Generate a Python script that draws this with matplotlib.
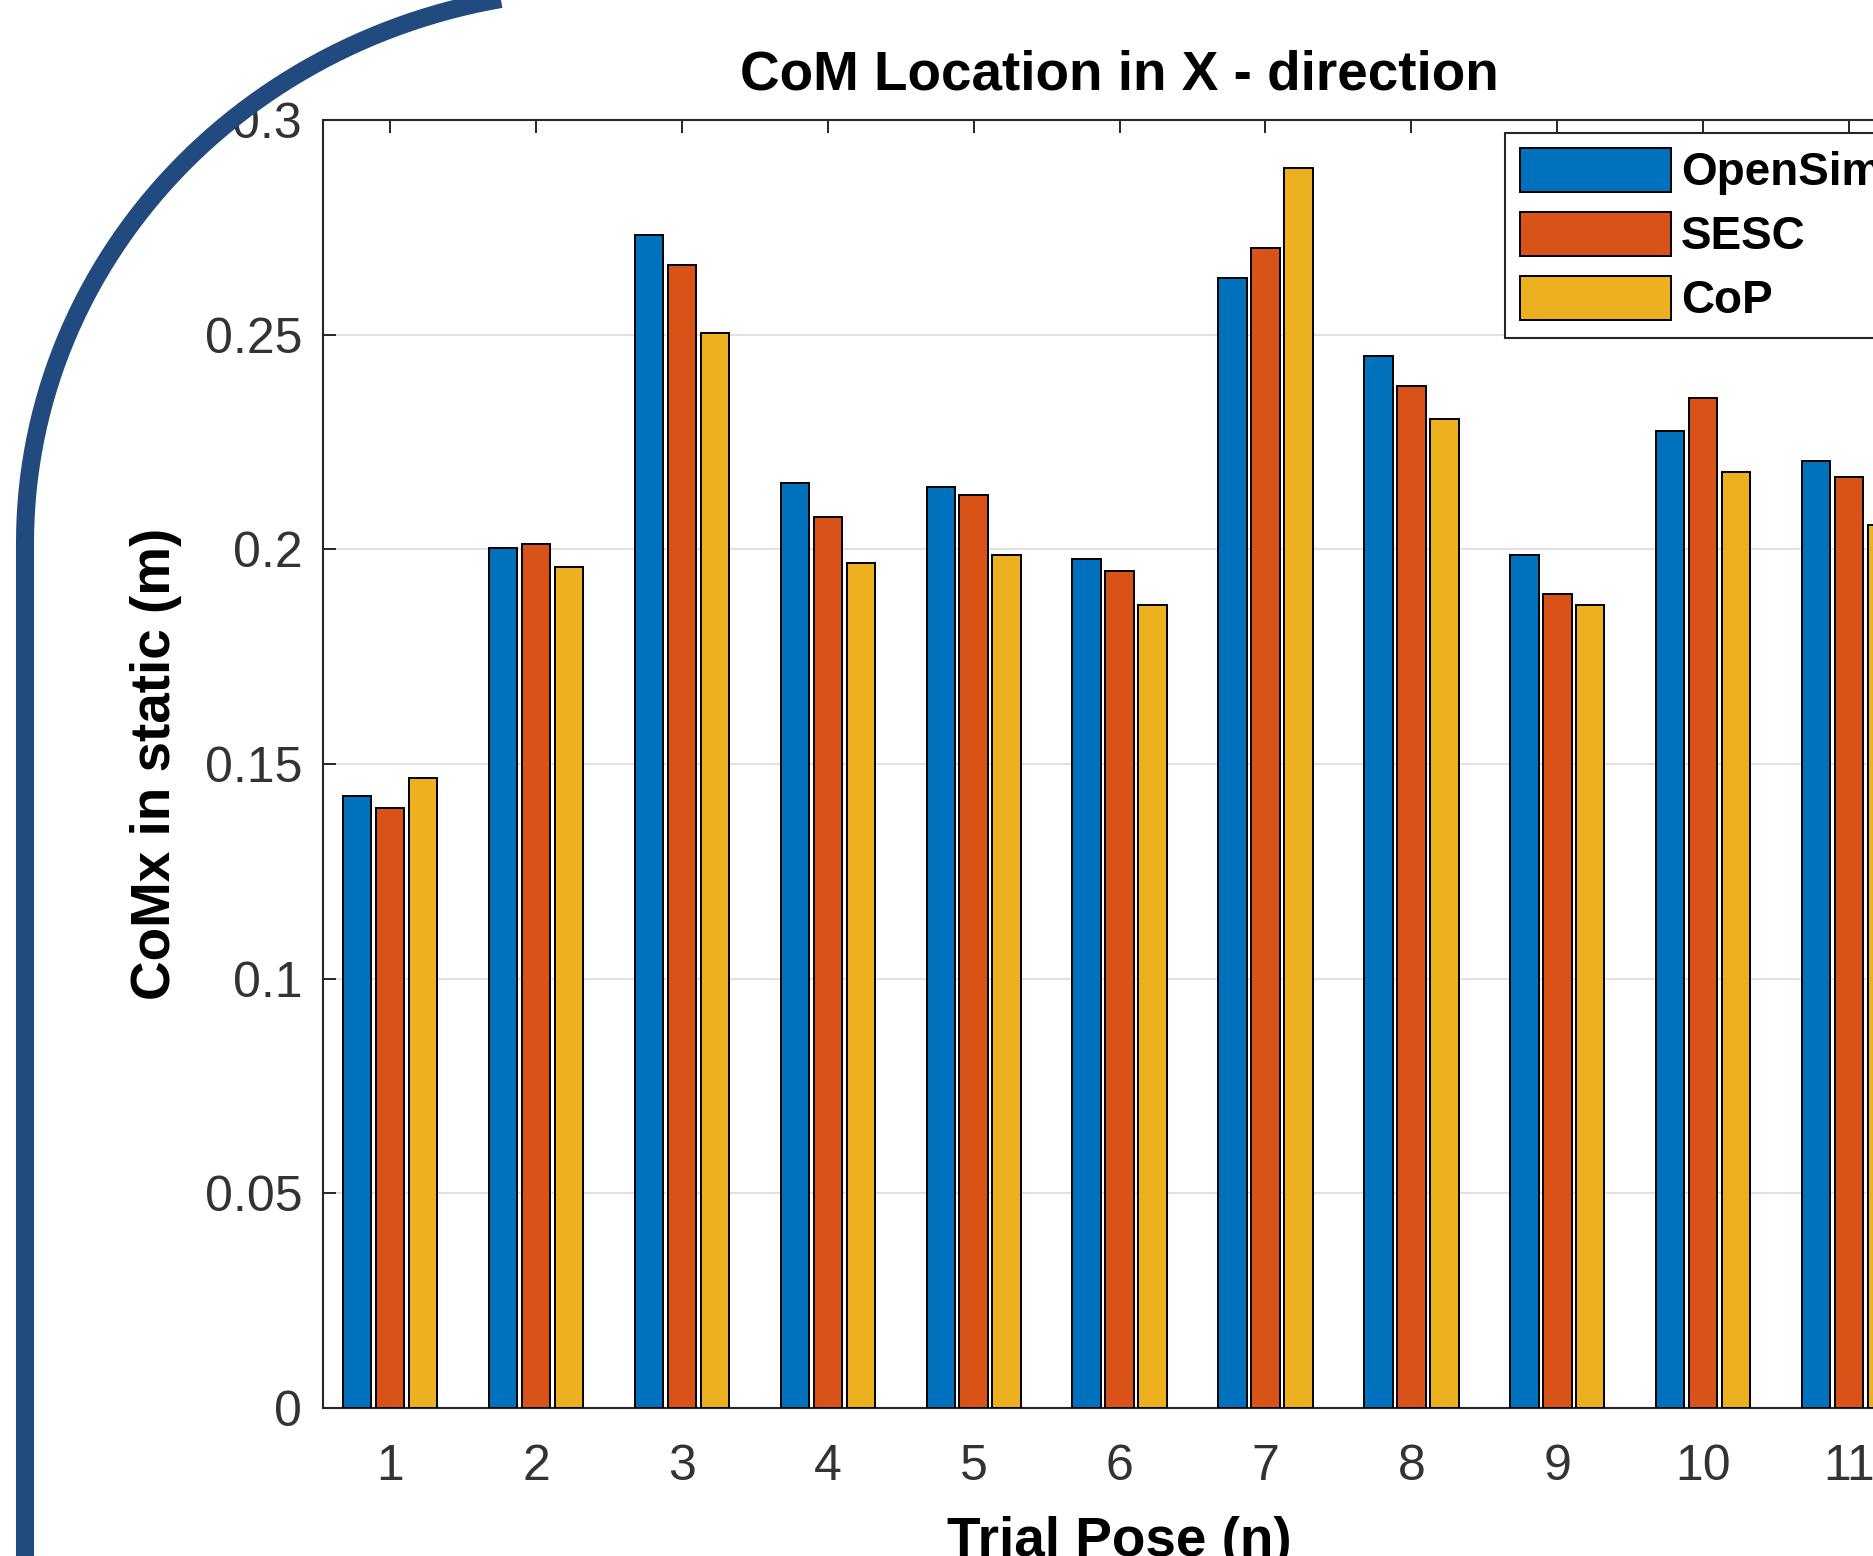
import numpy as np
import matplotlib
matplotlib.use('Agg')
import matplotlib.pyplot as plt

plt.rcParams['font.family'] = ['Liberation Sans', 'DejaVu Sans']

# CoM x location per trial pose (m)
poses = [1, 2, 3, 4, 5, 6, 7, 8, 9, 10, 11]
opensim = [0.1425, 0.2003, 0.2732, 0.2155, 0.2145, 0.1978, 0.2633, 0.2450, 0.1986, 0.2275, 0.2206]
sesc = [0.1397, 0.2012, 0.2662, 0.2075, 0.2126, 0.1950, 0.2703, 0.2380, 0.1897, 0.2353, 0.2169]
cop = [0.1467, 0.1959, 0.2504, 0.1969, 0.1987, 0.1870, 0.2889, 0.2303, 0.1870, 0.2180, 0.2056]
series_names = ['OpenSim', 'SESC', 'CoP']
yticks = [0, 0.05, 0.1, 0.15, 0.2, 0.25, 0.3]
ytick_labels = ['0', '0.05', '0.1', '0.15', '0.2', '0.25', '0.3']

colors = ['#0072BD', '#D95319', '#EDB120']
dark = '#262626'

W, H = 1873, 1556
fig = plt.figure(figsize=(W / 100, H / 100), dpi=100)
fig.patch.set_facecolor('white')

# axes runs past the right edge of the figure (cropped original)
ax = fig.add_axes([323 / W, 148 / H, 1593.2 / W, 1288 / H])

x = np.arange(len(poses)) + 1
step = 0.226
width = 0.195
for i, (vals, name) in enumerate(zip([opensim, sesc, cop], series_names)):
    ax.bar(x + (i - 1) * step, vals, width, color=colors[i], edgecolor='black',
           linewidth=1.4, label=name, zorder=3)

ax.set_xlim(0.54, 11.46)
ax.set_ylim(0, 0.3)
ax.set_xticks(x)
ax.set_xticklabels([str(p) for p in poses])
ax.set_yticks(yticks)
ax.set_yticklabels(ytick_labels)

ax.yaxis.grid(True, color='#dcdcdc', linewidth=1.2, zorder=0)
ax.set_axisbelow(True)

ax.tick_params(axis='both', direction='in', length=9.4, width=1.4, color=dark,
               labelcolor='#333333', labelsize=36, top=True, right=True)
ax.tick_params(axis='x', pad=26)
ax.tick_params(axis='y', pad=15)
for s in ax.spines.values():
    s.set_linewidth(1.5)
    s.set_color(dark)

ax.set_title('CoM Location in X - direction', fontsize=39.5, fontweight='bold', pad=22)
ax.set_xlabel('Trial Pose (n)', fontsize=39.5, fontweight='bold')
ax.set_ylabel('CoMx in static (m)', fontsize=39.5, fontweight='bold')
ax.xaxis.set_label_coords(0.5, -0.0839)
ax.yaxis.set_label_coords(-0.0885, 0.5)

leg = ax.legend(loc='upper left', bbox_to_anchor=(1505 / W, 1 - 133 / H),
                bbox_transform=fig.transFigure, borderaxespad=0,
                prop={'weight': 'bold', 'size': 33}, fancybox=False,
                edgecolor=dark, framealpha=1, handlelength=3.3, handleheight=1.1,
                handletextpad=0.22, labelspacing=0.36, borderpad=0.32)
leg.get_frame().set_linewidth(1.5)

# decorative rounded frame on the left
over = fig.add_axes([0, 0, 1, 1], zorder=10)
over.set_xlim(0, W)
over.set_ylim(H, 0)
over.axis('off')
over.patch.set_alpha(0)
a, b = 580, 553
cx, cy = 25 + a, 543
t = np.linspace(np.pi / 2, np.pi, 200)
px = np.concatenate([[2100], cx + a * np.cos(t), [25]])
py = np.concatenate([[cy - b], cy - b * np.sin(t), [1700]])
over.plot(px, py, color='#214A7E', linewidth=13, solid_capstyle='butt',
          solid_joinstyle='round', clip_on=False)

fig.savefig('out.png', dpi=100)
